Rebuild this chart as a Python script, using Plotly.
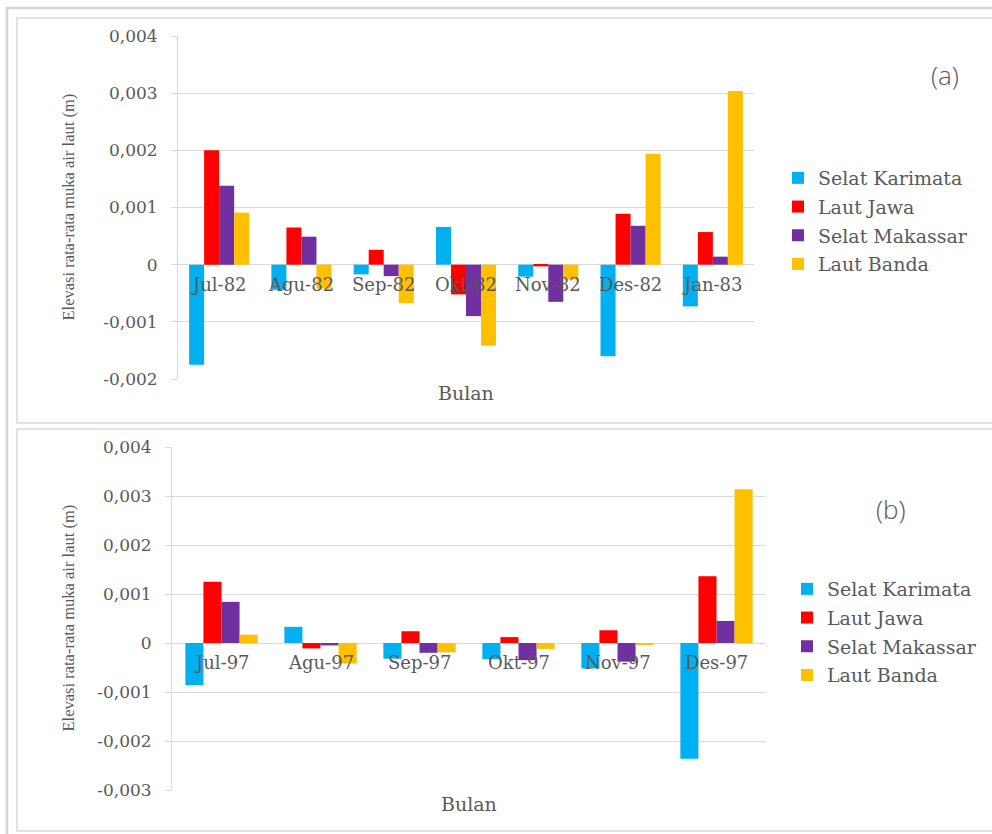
import plotly.graph_objects as go

# Monthly mean sea-level elevation anomalies (m) per basin
series_names = ["Selat Karimata", "Laut Jawa", "Selat Makassar", "Laut Banda"]
series_colors = ["#00B0F0", "#FF0000", "#7030A0", "#FFC000"]

months_a = ["Jul-82", "Agu-82", "Sep-82", "Okt-82", "Nov-82", "Des-82", "Jan-83"]
karimata_a = [-0.00175, -0.00044, -0.00017, 0.00066, -0.00021, -0.00160, -0.00073]
jawa_a = [0.00200, 0.00065, 0.00026, -0.00052, -0.00003, 0.00089, 0.00057]
makassar_a = [0.00138, 0.00049, -0.00020, -0.00090, -0.00065, 0.00068, 0.00014]
banda_a = [0.00091, -0.00042, -0.00067, -0.00142, -0.00026, 0.00194, 0.00304]

months_b = ["Jul-97", "Agu-97", "Sep-97", "Okt-97", "Nov-97", "Des-97"]
karimata_b = [-0.00086, 0.00033, -0.00032, -0.00033, -0.00052, -0.00236]
jawa_b = [0.00125, -0.00011, 0.00024, 0.00012, 0.00026, 0.00136]
makassar_b = [0.00084, -0.00005, -0.00020, -0.00035, -0.00038, 0.00045]
banda_b = [0.00017, -0.00042, -0.00019, -0.00012, -0.00004, 0.00314]

ticks_a = [-0.002, -0.001, 0, 0.001, 0.002, 0.003, 0.004]
ticktext_a = ["-0,002", "-0,001", "0", "0,001", "0,002", "0,003", "0,004"]
ticks_b = [-0.003, -0.002, -0.001, 0, 0.001, 0.002, 0.003, 0.004]
ticktext_b = ["-0,003", "-0,002", "-0,001", "0", "0,001", "0,002", "0,003", "0,004"]

y_title = "Elevasi rata-rata muka air laut (m)"
x_title = "Bulan"

W, H = 992, 834
GRID = "#D9D9D9"
TEXT = "#595959"
SERIF = "DejaVu Serif"


def px_x(v):
    return v / W


def px_y(v):
    return 1 - v / H


fig = go.Figure()

panels = [
    dict(months=months_a, values=[karimata_a, jawa_a, makassar_a, banda_a],
         xa="x", ya="y", legend="legend"),
    dict(months=months_b, values=[karimata_b, jawa_b, makassar_b, banda_b],
         xa="x2", ya="y2", legend="legend2"),
]

for p in panels:
    for name, color, vals in zip(series_names, series_colors, p["values"]):
        fig.add_trace(go.Bar(
            x=p["months"], y=vals, name=name,
            marker=dict(color=color, line=dict(width=0)),
            xaxis=p["xa"], yaxis=p["ya"], legend=p["legend"],
            legendgroup=p["legend"] + name,
        ))

dom_a_x = [px_x(178), px_x(754)]
dom_a_y = [px_y(379), px_y(36)]
dom_b_x = [px_x(172), px_x(766)]
dom_b_y = [px_y(790), px_y(447)]

yaxis_common = dict(
    showgrid=True, gridcolor=GRID, gridwidth=1,
    zeroline=True, zerolinecolor=GRID, zerolinewidth=1,
    showline=True, linecolor=GRID, linewidth=1,
    ticks="outside", ticklen=6, tickcolor=GRID,
    tickfont=dict(family=SERIF, size=17, color=TEXT),
    ticklabelstandoff=10, automargin=False,
)
xaxis_common = dict(showticklabels=False, showgrid=False, zeroline=False,
                    showline=False, ticks="", automargin=False)

legend_common = dict(
    xanchor="left", yanchor="top",
    font=dict(family=SERIF, size=19, color=TEXT),
    traceorder="grouped", tracegroupgap=1,
    bgcolor="rgba(0,0,0,0)", itemwidth=30,
)

fig.update_layout(
    width=W, height=H,
    margin=dict(l=0, r=0, t=0, b=0, autoexpand=False),
    paper_bgcolor="white", plot_bgcolor="white",
    barmode="group",
    bargap=0.27, bargroupgap=0,
    xaxis=dict(domain=dom_a_x, anchor="y", **xaxis_common),
    yaxis=dict(domain=dom_a_y, anchor="x", range=[-0.002, 0.004],
               tickvals=ticks_a, ticktext=ticktext_a, **yaxis_common),
    xaxis2=dict(domain=dom_b_x, anchor="y2", **xaxis_common),
    yaxis2=dict(domain=dom_b_y, anchor="x2", range=[-0.003, 0.004],
                tickvals=ticks_b, ticktext=ticktext_b, **yaxis_common),
    legend=dict(x=px_x(778), y=px_y(159), **legend_common),
    legend2=dict(x=px_x(787), y=px_y(570), **legend_common),
    showlegend=True,
)

annotations = []
# month labels sitting just below the zero line
for months, xa, ya in [(months_a, "x", "y"), (months_b, "x2", "y2")]:
    for m in months:
        annotations.append(dict(
            x=m, y=0, xref=xa, yref=ya, text=m, showarrow=False,
            yanchor="top", yshift=-7,
            font=dict(family=SERIF, size=18, color=TEXT),
        ))

# axis titles and panel tags
for dom_x, dom_y, tag, tag_xy in [
    (dom_a_x, dom_a_y, "(a)", (945, 75)),
    (dom_b_x, dom_b_y, "(b)", (891, 509)),
]:
    annotations.append(dict(
        x=(dom_x[0] + dom_x[1]) / 2, y=dom_y[0], xref="paper", yref="paper",
        text=x_title, showarrow=False, yanchor="middle", yshift=-14,
        font=dict(family=SERIF, size=19, color=TEXT),
    ))
    annotations.append(dict(
        x=px_x(68), y=(dom_y[0] + dom_y[1]) / 2, xref="paper", yref="paper",
        text=y_title, showarrow=False, textangle=-90,
        xanchor="center", yanchor="middle",
        font=dict(family="Liberation Serif", size=16.5, color=TEXT),
    ))
    annotations.append(dict(
        x=px_x(tag_xy[0]), y=px_y(tag_xy[1]), xref="paper", yref="paper",
        text=tag, showarrow=False, xanchor="center", yanchor="middle",
        font=dict(family="Open Sans", size=26, color=TEXT, weight=300),
    ))

fig.update_layout(annotations=annotations)

# panel frames
shapes = [
    dict(type="rect", xref="paper", yref="paper",
         x0=px_x(7), x1=px_x(1010), y0=px_y(850), y1=px_y(8),
         line=dict(color="#D4D4D4", width=2.5)),
    dict(type="rect", xref="paper", yref="paper",
         x0=px_x(17), x1=px_x(1010), y0=px_y(423), y1=px_y(18),
         line=dict(color="#D9D9D9", width=1.5)),
    dict(type="rect", xref="paper", yref="paper",
         x0=px_x(17), x1=px_x(1010), y0=px_y(831), y1=px_y(429),
         line=dict(color="#D9D9D9", width=1.5)),
]
fig.update_layout(shapes=shapes)

fig.write_html("out.html")
